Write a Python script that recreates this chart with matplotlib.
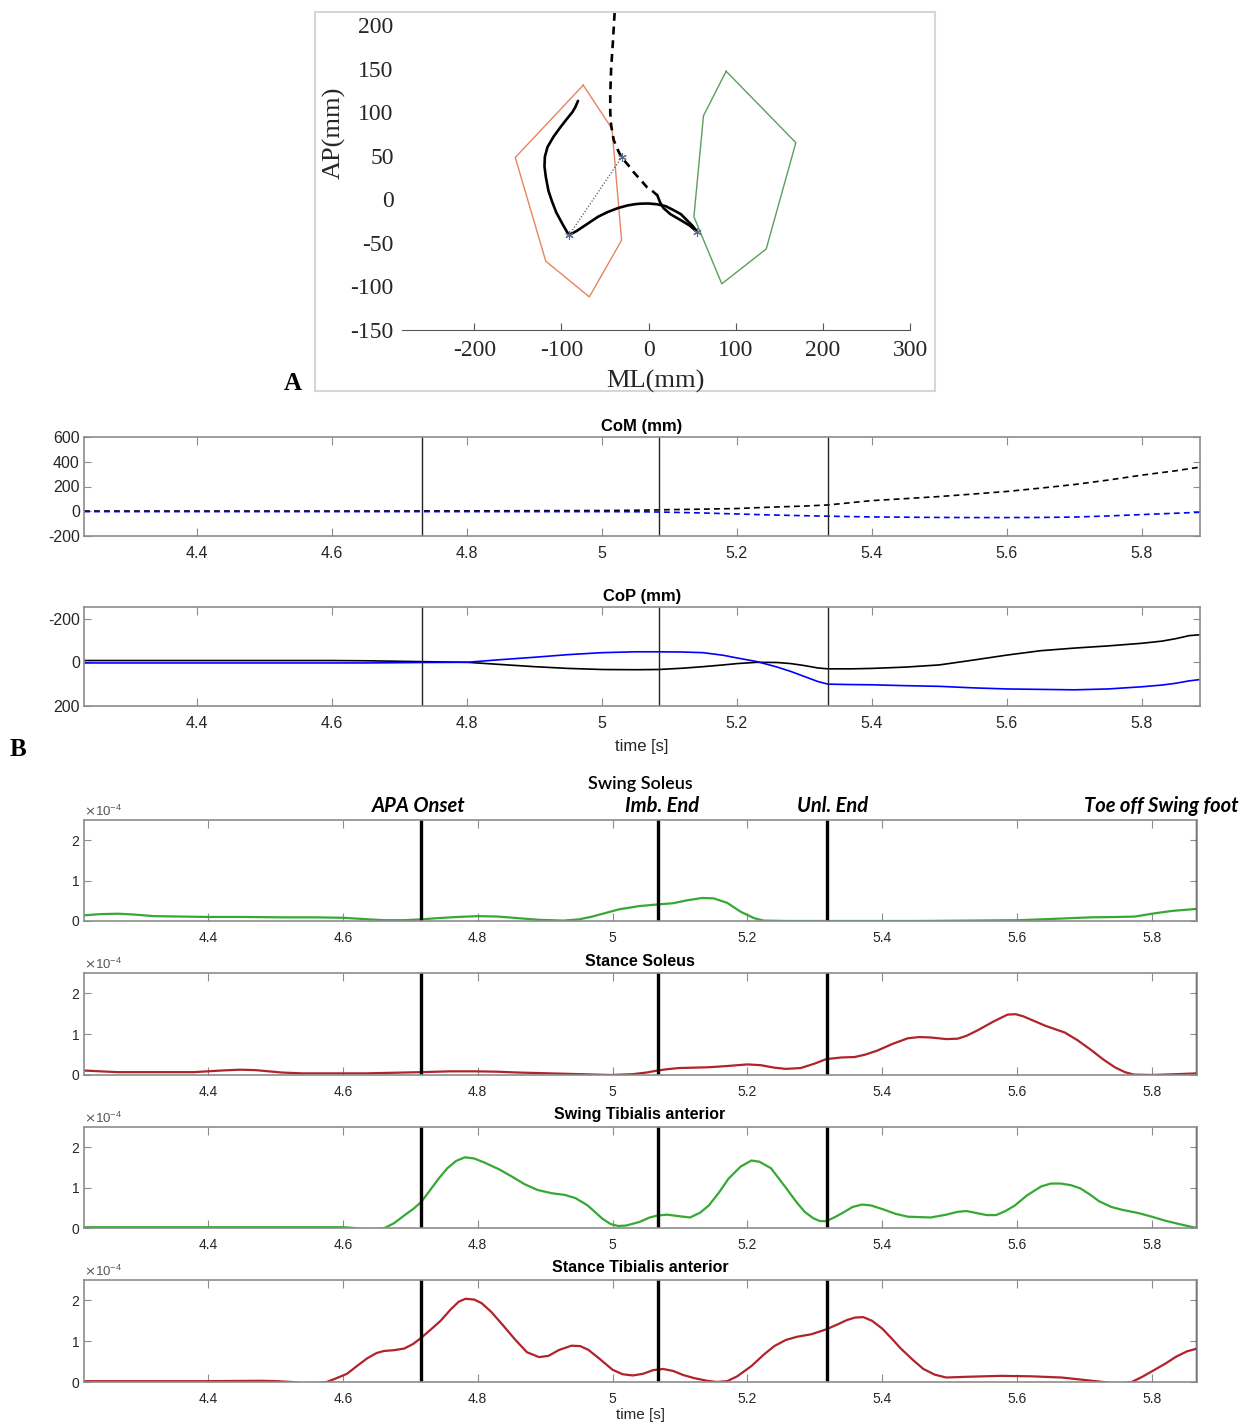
import numpy as np
import matplotlib
matplotlib.use("Agg")
import matplotlib.pyplot as plt
from matplotlib.patches import Rectangle
from matplotlib.ticker import ScalarFormatter

plt.rcParams["axes.unicode_minus"] = False

# ---------------- data ----------------
# Panel A: base of support polygons and trajectories in the ML/AP plane (mm)
stance_foot_ml = [-75, -42, -31, -68, -118, -153, -75]
stance_foot_ap = [131, 81, -47, -112, -71, 48, 131]
swing_foot_ml = [89, 169, 135, 84, 52, 63, 89]
swing_foot_ap = [147, 65, -57, -97, -20, 96, 147]

cop_path_ml = [-81, -84, -87.5, -94, -101, -109, -116, -119, -119.5, -118, -115, -111,
               -106, -99, -91.4, -82, -70, -58, -47, -35, -24, -15, -9, 0, 10, 20, 29,
               37, 44, 50, 56]
cop_path_ap = [113, 106, 100, 92, 83, 72, 60, 49, 38, 26, 10, -2,
               -15, -28, -41.3, -36, -28, -20, -14.6, -10, -7, -5.5, -5, -4.8, -5.7, -8, -12.6,
               -17, -24, -30, -37.6]

com_path_ml = [-39, -41, -43, -44, -44, -43, -40, -35, -31, -24, -17, -8, -2, 5, 10]
com_path_ap = [214, 180, 150, 120, 100, 85, 68, 56, 48, 40, 31, 21, 14, 9, 4.6]
com_tail_ml = [10, 13, 17, 25, 37, 47, 56]
com_tail_ap = [4.6, -3, -10, -17, -24, -30, -37.6]

event_pts_ml = [-91.4, -31, 56]
event_pts_ap = [-41.3, 48, -37.6]

# Panel B: CoM (mm)
com_t = [4.233, 4.4, 4.6, 4.8, 5.0, 5.05, 5.084, 5.1, 5.15, 5.2, 5.25, 5.3, 5.335,
         5.4, 5.45, 5.5, 5.55, 5.6, 5.65, 5.7, 5.75, 5.8, 5.85, 5.886]
com_ap = [2, 2, 2, 3, 6, 8, 11, 13, 17, 22, 33, 42, 51,
          86, 102, 119, 139, 160, 187, 216, 252, 292, 327, 357]
com_ml = [-3, -3, -3, -3, -3, -4, -6, -8, -14, -22, -30, -36, -40,
          -46, -48, -50, -51, -51, -50, -47, -38, -27, -16, -8]

# Panel B: CoP (mm)
cop_t = [4.233, 4.4, 4.6, 4.65, 4.733, 4.8, 4.85, 4.9, 4.95, 5.0, 5.05, 5.084, 5.12,
         5.15, 5.18, 5.2, 5.23, 5.26, 5.28, 5.3, 5.32, 5.335, 5.37, 5.4, 5.45, 5.5,
         5.55, 5.6, 5.65, 5.7, 5.75, 5.8, 5.83, 5.85, 5.87, 5.886]
cop_ap = [-8, -8, -8, -7, -3, 0, 10, 20, 28, 33, 34, 33, 27,
          20, 12, 6, 0, 1, 6, 15, 26, 30, 30, 28, 22, 12,
          -10, -33, -53, -65, -75, -87, -97, -108, -122, -126]
cop_ml = [3, 3, 3, 3, 1, 0, -12, -23, -35, -44, -48, -48, -47,
          -44, -32, -20, -3, 22, 42, 65, 88, 100, 102, 103, 107, 110,
          117, 122, 124, 126, 122, 112, 104, 96, 85, 79]

event_times_kin = [4.733, 5.084, 5.335]

# EMG envelopes (x1e-4)
swing_sol_t = [4.216, 4.24, 4.266, 4.29, 4.32, 4.36, 4.4, 4.45, 4.515, 4.56, 4.6, 4.63,
               4.66, 4.69, 4.716, 4.74, 4.77, 4.80, 4.83, 4.86, 4.89, 4.927, 4.95, 4.97,
               4.99, 5.01, 5.04, 5.067, 5.09, 5.11, 5.133, 5.15, 5.17, 5.19, 5.21, 5.224,
               5.26, 5.315, 5.45, 5.603, 5.65, 5.708, 5.75, 5.775, 5.80, 5.83, 5.867]
swing_sol_v = [0.14, 0.17, 0.18, 0.16, 0.12, 0.11, 0.10, 0.10, 0.09, 0.09, 0.08, 0.05,
               0.02, 0.02, 0.04, 0.07, 0.10, 0.12, 0.11, 0.07, 0.03, 0.01, 0.04, 0.11,
               0.20, 0.29, 0.37, 0.41, 0.44, 0.51, 0.57, 0.56, 0.45, 0.23, 0.07, 0.01,
               0.0, 0.0, 0.0, 0.02, 0.05, 0.09, 0.10, 0.11, 0.18, 0.25, 0.30]

stance_sol_t = [4.216, 4.24, 4.266, 4.379, 4.42, 4.447, 4.47, 4.49, 4.51, 4.54, 4.634,
                4.716, 4.76, 4.798, 4.83, 4.861, 4.93, 4.997, 5.03, 5.05, 5.067, 5.08,
                5.098, 5.12, 5.143, 5.17, 5.2, 5.22, 5.24, 5.257, 5.279, 5.30, 5.317,
                5.34, 5.359, 5.375, 5.393, 5.415, 5.438, 5.455, 5.472, 5.495, 5.512,
                5.525, 5.541, 5.565, 5.586, 5.598, 5.609, 5.626, 5.643, 5.671, 5.69,
                5.711, 5.728, 5.745, 5.76, 5.773, 5.8, 5.836, 5.867]
stance_sol_v = [0.11, 0.09, 0.07, 0.07, 0.11, 0.13, 0.12, 0.09, 0.06, 0.04, 0.04,
                0.07, 0.09, 0.09, 0.08, 0.06, 0.03, 0.0, 0.02, 0.06, 0.11, 0.14,
                0.17, 0.18, 0.19, 0.22, 0.26, 0.24, 0.18, 0.15, 0.17, 0.28, 0.39,
                0.43, 0.44, 0.50, 0.60, 0.76, 0.90, 0.93, 0.92, 0.88, 0.89,
                0.96, 1.09, 1.31, 1.48, 1.49, 1.44, 1.32, 1.20, 1.04, 0.85,
                0.60, 0.38, 0.19, 0.07, 0.01, 0.0, 0.02, 0.04]

swing_ta_t = [4.218, 4.407, 4.577, 4.60, 4.617, 4.64, 4.662, 4.676, 4.691, 4.705, 4.716,
              4.73, 4.742, 4.755, 4.768, 4.781, 4.795, 4.81, 4.832, 4.85, 4.87, 4.889,
              4.91, 4.929, 4.945, 4.963, 4.975, 4.985, 4.997, 5.008, 5.02, 5.04, 5.055,
              5.067, 5.081, 5.10, 5.115, 5.13, 5.143, 5.158, 5.172, 5.19, 5.206, 5.218,
              5.235, 5.257, 5.272, 5.285, 5.298, 5.308, 5.317, 5.33, 5.342, 5.356, 5.370,
              5.383, 5.40, 5.42, 5.438, 5.472, 5.495, 5.512, 5.525, 5.54, 5.555, 5.569,
              5.583, 5.597, 5.615, 5.636, 5.65, 5.665, 5.68, 5.694, 5.708, 5.722, 5.74,
              5.756, 5.78, 5.8, 5.82, 5.845, 5.867]
swing_ta_v = [0.02, 0.02, 0.02, 0.02, 0.0, -0.05, 0.0, 0.12, 0.31, 0.48, 0.64,
              0.95, 1.22, 1.48, 1.66, 1.75, 1.72, 1.62, 1.45, 1.28, 1.08, 0.94,
              0.86, 0.82, 0.74, 0.56, 0.38, 0.23, 0.10, 0.05, 0.06, 0.15, 0.26,
              0.31, 0.33, 0.29, 0.26, 0.38, 0.56, 0.88, 1.22, 1.52, 1.67, 1.64,
              1.48, 1.00, 0.66, 0.40, 0.24, 0.17, 0.17, 0.27, 0.38, 0.52, 0.58,
              0.56, 0.47, 0.35, 0.28, 0.26, 0.33, 0.40, 0.42, 0.37, 0.32, 0.32,
              0.42, 0.56, 0.81, 1.03, 1.10, 1.10, 1.06, 0.98, 0.83, 0.66, 0.52,
              0.45, 0.37, 0.28, 0.18, 0.08, 0.0]

stance_ta_t = [4.216, 4.394, 4.48, 4.503, 4.524, 4.55, 4.576, 4.59, 4.606, 4.62, 4.636,
               4.65, 4.661, 4.676, 4.691, 4.704, 4.716, 4.73, 4.745, 4.76, 4.772, 4.782,
               4.795, 4.806, 4.82, 4.836, 4.855, 4.873, 4.891, 4.905, 4.92, 4.939, 4.952,
               4.964, 4.98, 5.0, 5.015, 5.03, 5.045, 5.06, 5.075, 5.09, 5.105, 5.12,
               5.14, 5.155, 5.17, 5.185, 5.206, 5.225, 5.24, 5.257, 5.274, 5.295, 5.317,
               5.335, 5.348, 5.36, 5.372, 5.385, 5.40, 5.415, 5.427, 5.445, 5.461, 5.478,
               5.495, 5.53, 5.575, 5.62, 5.666, 5.70, 5.728, 5.75, 5.77, 5.785, 5.8,
               5.82, 5.836, 5.852, 5.867]
stance_ta_v = [0.02, 0.02, 0.03, 0.02, 0.0, -0.05, 0.0, 0.09, 0.2, 0.38, 0.58,
               0.71, 0.76, 0.78, 0.82, 0.93, 1.08, 1.28, 1.50, 1.78, 1.97, 2.04,
               2.02, 1.93, 1.72, 1.42, 1.05, 0.73, 0.61, 0.64, 0.78, 0.89, 0.88,
               0.79, 0.58, 0.30, 0.19, 0.16, 0.20, 0.29, 0.32, 0.27, 0.17, 0.10,
               0.03, 0.0, 0.02, 0.14, 0.39, 0.68, 0.88, 1.03, 1.11, 1.17, 1.29,
               1.42, 1.52, 1.58, 1.59, 1.50, 1.31, 1.05, 0.83, 0.55, 0.32, 0.18,
               0.11, 0.13, 0.15, 0.14, 0.11, 0.05, 0.0, -0.05, 0.0, 0.12, 0.26,
               0.45, 0.62, 0.75, 0.82]

event_times_emg = [4.716, 5.067, 5.318, 5.867]
event_labels = ["APA Onset", "Imb. End", "Unl. End", "Toe off Swing foot"]
event_label_dx = [-2, 3, 4, -26]

emg_panels = [
    ("Swing Soleus", swing_sol_t, swing_sol_v, "#36a834"),
    ("Stance Soleus", stance_sol_t, stance_sol_v, "#b0232a"),
    ("Swing Tibialis anterior", swing_ta_t, swing_ta_v, "#36a834"),
    ("Stance Tibialis anterior", stance_ta_t, stance_ta_v, "#b0232a"),
]

# ---------------- layout helpers ----------------
W, H = 1258, 1428
fig = plt.figure(figsize=(W / 100, H / 100), dpi=100)


def px_box(left, top, right, bottom):
    return [left / W, 1 - bottom / H, (right - left) / W, (bottom - top) / H]


SANS = ["Liberation Sans", "DejaVu Sans"]
SERIF = ["Liberation Serif", "DejaVu Serif"]
TICKC = "#262626"
SPINEC = "#8c8c8c"

# ---------------- panel A ----------------
fig.add_artist(Rectangle((315 / W, 1 - 391 / H), 620 / W, 379 / H,
                         transform=fig.transFigure, fill=False,
                         edgecolor="#d6d6d6", lw=1.5))
axA = fig.add_axes(px_box(402, 12, 910, 330))
axA.plot(stance_foot_ml, stance_foot_ap, color="#e8845f", lw=1.0)
axA.plot(swing_foot_ml, swing_foot_ap, color="#5c9e5c", lw=1.0)
axA.plot([event_pts_ml[0], event_pts_ml[1]], [event_pts_ap[0], event_pts_ap[1]],
         color="#555555", lw=0.9, ls=(0, (1, 1.5)))
axA.plot(cop_path_ml, cop_path_ap, color="black", lw=1.9, solid_capstyle="round",
         solid_joinstyle="round")
axA.plot(com_path_ml, com_path_ap, color="black", lw=1.9, ls=(0, (3, 2.2)))
axA.plot(com_tail_ml, com_tail_ap, color="black", lw=1.9, solid_joinstyle="round")
axA.plot(event_pts_ml, event_pts_ap, ls="none", marker=(6, 2, 0), ms=6,
         color="#5a6a8a", mew=0.8)
axA.set_xlim(-283, 300)
axA.set_ylim(-150, 215)
axA.set_xticks([-200, -100, 0, 100, 200, 300])
axA.set_yticks([-150, -100, -50, 0, 50, 100, 150, 200])
for s in ["top", "right", "left"]:
    axA.spines[s].set_visible(False)
axA.spines["bottom"].set_color("#555555")
axA.tick_params(axis="x", direction="in", length=5, color="#555555",
                labelsize=17, pad=7, labelcolor=TICKC)
axA.tick_params(axis="y", length=0, labelsize=17, pad=6, labelcolor=TICKC)
for lab in axA.get_xticklabels() + axA.get_yticklabels():
    lab.set_family(SERIF)
fig.text(655 / W, 1 - 381 / H, "ML(mm)", family=SERIF, fontsize=19,
         ha="center", va="center", color=TICKC)
fig.text(334 / W, 1 - 133 / H, "AP(mm)", family=SERIF, fontsize=19,
         ha="center", va="center", rotation=90, color=TICKC)
fig.text(293 / W, 1 - 383 / H, "A", family=SERIF, fontsize=18,
         fontweight="bold", ha="center", va="center")
fig.text(18 / W, 1 - 750 / H, "B", family=SERIF, fontsize=18,
         fontweight="bold", ha="center", va="center")


def style_time_axis(ax, xlim, labelsize):
    ax.set_xlim(*xlim)
    ax.set_xticks([4.4, 4.6, 4.8, 5.0, 5.2, 5.4, 5.6, 5.8])
    ax.set_xticklabels(["4.4", "4.6", "4.8", "5", "5.2", "5.4", "5.6", "5.8"])
    for s in ax.spines.values():
        s.set_color(SPINEC)
        s.set_linewidth(1.2)
    ax.tick_params(axis="both", direction="in", top=True, right=True,
                   color=SPINEC, labelsize=labelsize, labelcolor=TICKC)
    ax.tick_params(axis="x", length=6, pad=7)
    ax.tick_params(axis="y", length=5, pad=3)
    for lab in ax.get_xticklabels() + ax.get_yticklabels():
        lab.set_family(SANS)


# ---------------- CoM ----------------
axM = fig.add_axes(px_box(84, 437, 1200, 536))
axM.plot(com_t, com_ap, color="black", lw=1.2, ls=(0, (3.5, 2.5)))
axM.plot(com_t, com_ml, color="#0000ff", lw=1.2, ls=(0, (3.5, 2.5)))
for t in event_times_kin:
    axM.axvline(t, color="#222222", lw=1.0)
axM.set_ylim(-200, 600)
axM.set_yticks([-200, 0, 200, 400, 600])
style_time_axis(axM, (4.233, 5.886), 11.5)
axM.set_title("CoM (mm)", family=SANS, fontsize=12, fontweight="bold", pad=4.5)

# ---------------- CoP ----------------
axP = fig.add_axes(px_box(84, 607, 1200, 706))
axP.plot(cop_t, cop_ap, color="black", lw=1.2)
axP.plot(cop_t, cop_ml, color="#0000ff", lw=1.2)
for t in event_times_kin:
    axP.axvline(t, color="#222222", lw=1.0)
axP.set_ylim(200, -253)
axP.set_yticks([-200, 0, 200])
style_time_axis(axP, (4.233, 5.886), 11.5)
axP.set_title("CoP (mm)", family=SANS, fontsize=12, fontweight="bold", pad=4)
axP.set_xlabel("time [s]", family=SANS, fontsize=12, color=TICKC, labelpad=6)

# ---------------- EMG panels ----------------
emg_boxes = [(820, 921), (973, 1075), (1127, 1228), (1280, 1382)]
title_y = [784, 961, 1114, 1268]
for i, ((name, t, v, col), (top, bot)) in enumerate(zip(emg_panels, emg_boxes)):
    ax = fig.add_axes(px_box(84, top, 1197, bot))
    ax.plot(t, np.array(v) * 1e-4, color=col, lw=1.6, solid_joinstyle="round")
    for te in event_times_emg:
        ax.axvline(te, color="black", lw=2.4)
    ax.set_ylim(0, 2.5e-4)
    ax.set_yticks([0, 1e-4, 2e-4])
    fmt = ScalarFormatter(useMathText=True)
    fmt.set_powerlimits((-3, 3))
    ax.yaxis.set_major_formatter(fmt)
    style_time_axis(ax, (4.216, 5.867), 10)
    ax.yaxis.get_offset_text().set_fontsize(9.5)
    ax.yaxis.get_offset_text().set_color("#555555")
    ax.yaxis.get_offset_text().set_family(SANS)
    if i == 0:
        fig.text(640 / W, 1 - title_y[i] / H, name, family=["Lato", "DejaVu Sans"],
                 fontsize=13, fontweight="semibold", ha="center", va="center")
        for te, lab, dx in zip(event_times_emg, event_labels, event_label_dx):
            ax.annotate(lab, xy=(te, 1.0), xycoords=("data", "axes fraction"),
                        xytext=(dx, 3), textcoords="offset points",
                        ha="center", va="bottom", family=["Lato", "DejaVu Sans"],
                        fontsize=14.5, fontweight="bold", style="italic")
    else:
        fig.text(640 / W, 1 - title_y[i] / H, name, family=SANS,
                 fontsize=11.5, fontweight="bold", ha="center", va="center")
    if i == 3:
        ax.set_xlabel("time [s]", family=SANS, fontsize=11, color=TICKC, labelpad=2)

fig.savefig("out.png", dpi=100)
